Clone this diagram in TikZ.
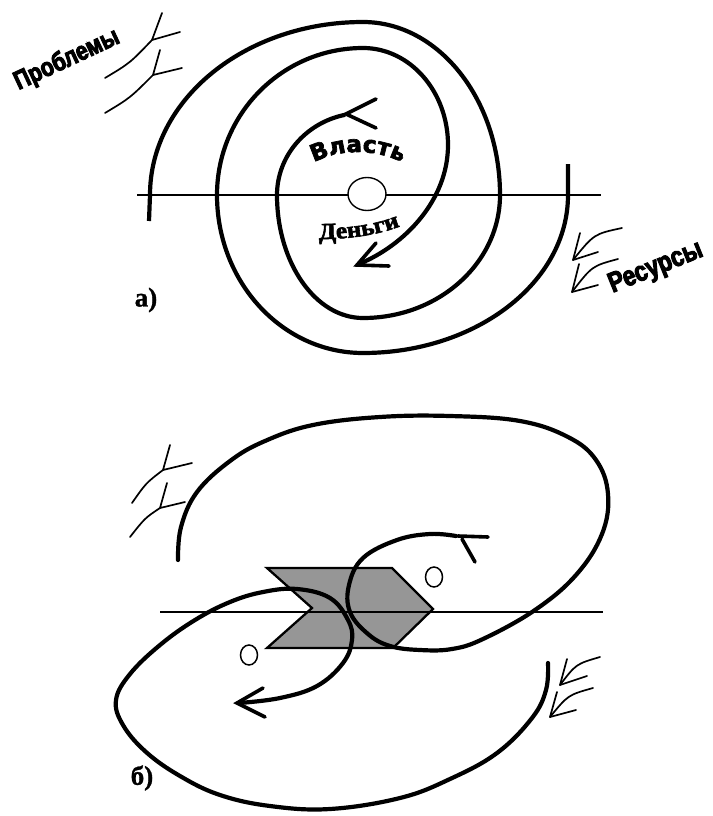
\documentclass[tikz,border=0pt]{standalone}
\usepackage{fontspec}
\setmainfont{Liberation Serif}
\newfontfamily\wafont[FakeBold=3]{DejaVu Sans Bold}
\newfontfamily\wsfont[FakeStretch=0.82, FakeBold=3.5]{Liberation Sans Bold}
\newfontfamily\dsfont[FakeStretch=1.1, FakeBold=2.5]{Liberation Serif Bold}
\newfontfamily\lblfont[FakeBold=1]{Liberation Serif Bold}
\usetikzlibrary{decorations.text}
\tikzset{
  spiral/.style={line width=4.2pt, line cap=butt},
  axisline/.style={line width=1.3pt},
  feather/.style={line width=1.7pt, line cap=round, line join=round},
  tipline/.style={line width=3.6pt, line cap=round, line join=miter},
  chev/.style={fill={rgb,255:red,150;green,150;blue,150}, draw=black, line width=2.3pt, line join=miter},
  smallo/.style={draw=black, fill=white, line width=1.5pt},
  lbl/.style={font=\lblfont\fontsize{27}{27}\selectfont, inner sep=0pt},
  wordart/.style={font=\wsfont\fontsize{26}{26}\selectfont, inner sep=0pt}
}
\begin{document}
\begin{tikzpicture}[x=1pt,y=-1pt]
\useasboundingbox (0,0) rectangle (712,816);

% ---------------- a) ----------------
\draw[axisline] (137,195) -- (601,195);

% spiral 1 (from "Problemy" side) ending at the barb near "Vlast"
\draw[spiral] (149,221) -- (150,195)
  arc[start angle=180, end angle=270, x radius=213, y radius=173]
  arc[start angle=270, end angle=360, x radius=137, y radius=173]
  arc[start angle=0, end angle=90, x radius=137, y radius=123]
  arc[start angle=90, end angle=180, x radius=86, y radius=123]
  arc[start angle=180, end angle=258, x radius=86, y radius=82];
\draw[tipline] (376,99) -- (346,114) -- (376,128);

% spiral 2 (from "Resursy" side) ending with the arrow near "Dengi"
\draw[spiral] (568,164) -- (568,195)
  arc[start angle=0, end angle=90, x radius=205, y radius=158]
  arc[start angle=90, end angle=180, x radius=146, y radius=158]
  arc[start angle=180, end angle=270, x radius=146, y radius=147]
  arc[start angle=270, end angle=360, x radius=85, y radius=97]
  .. controls (448,200) and (405,245) .. (359,264);
\draw[tipline] (376,243) -- (357,265) -- (389,266);

\draw[smallo, line width=1.4pt] (367,194) ellipse [x radius=19, y radius=16.5];

\path[decorate, decoration={text along path, text align=center,
  text={|\wafont\fontsize{23}{23}\selectfont|Власть}}]
  (300.6,170.1) arc[start angle=235, end angle=305, radius=100];
\path[decorate, decoration={text along path, text align=center,
  text={|\dsfont\fontsize{23}{23}\selectfont|Деньги}}]
  (306,239) .. controls (345,240) and (382,236) .. (412,221);

\node[wordart, rotate=25] (prob) at (67,60) {Проблемы};
\node[wordart, rotate=22, font=\wsfont\fontsize{28}{28}\selectfont] (res) at (656,268) {Ресурсы};

% feathers a)
\draw[feather] (105,78) .. controls (130,63) .. (152,40);
\draw[feather] (162,13) -- (152,40) -- (180,32);
\draw[feather] (105,113) .. controls (130,98) .. (153,75);
\draw[feather] (160,50) -- (153,75) -- (182,68);

\draw[feather] (622,228) .. controls (594,234) .. (573,260);
\draw[feather] (580,233) -- (573,260) -- (598,252);
\draw[feather] (618,259) .. controls (592,266) .. (572,292);
\draw[feather] (579,264) -- (572,292) -- (598,285);

\node[lbl] (la) at (146,300) {а)};

% ---------------- b) ----------------
\draw[chev] (267,568) -- (392,568) -- (433,609) -- (393,648) -- (267,648) -- (312,608) -- cycle;
\draw[axisline] (160,612) -- (603,612);

\draw[smallo] (434,577) ellipse [x radius=8.5, y radius=10];
\draw[smallo] (249,655) ellipse [x radius=8.5, y radius=10];

% upper loop
\draw[spiral, line cap=round] plot[smooth, tension=0.65] coordinates {
  (178,560) (181,527) (197,492) (230,461) (265,441) (313,425) (380,417)
  (450,416) (520,421) (568,437) (596,460) (608,494) (602,534) (576,575)
  (535,610) (483,639) (452,649) (420,650) (390,646) (368,634) (350,612)
  (349,585) (363,558) (397,540) (430,534) (456,536)};
\draw[tipline] (488,537) -- (458,536);
\draw[tipline] (462,539) -- (475,562);

% lower loop
\draw[spiral, line cap=round] plot[smooth, tension=0.65] coordinates {
  (548,663) (546,690) (532,718) (497,753) (450,779) (400,798) (330,809)
  (270,806) (220,795) (180,776) (146,752) (123,725) (116,700) (130,674)
  (160,645) (195,620) (230,602) (263,592) (297,589) (330,598) (348,620)
  (352,640) (343,663) (317,686) (280,698) (239,703)};
\draw[tipline] (263,688) -- (237,703) -- (265,717);

% feathers b)
\draw[feather] (132,503) .. controls (146,483) .. (163,470);
\draw[feather] (170,445) -- (163,470) -- (192,463);
\draw[feather] (130,537) .. controls (145,518) .. (160,508);
\draw[feather] (167,483) -- (160,508) -- (185,502);

\draw[feather] (600,657) .. controls (576,664) .. (560,685);
\draw[feather] (567,659) -- (560,685) -- (587,676);
\draw[feather] (593,688) .. controls (568,695) .. (550,717);
\draw[feather] (557,692) -- (550,717) -- (576,710);

\node[lbl] (lb) at (142,778) {б)};
\end{tikzpicture}
\end{document}
